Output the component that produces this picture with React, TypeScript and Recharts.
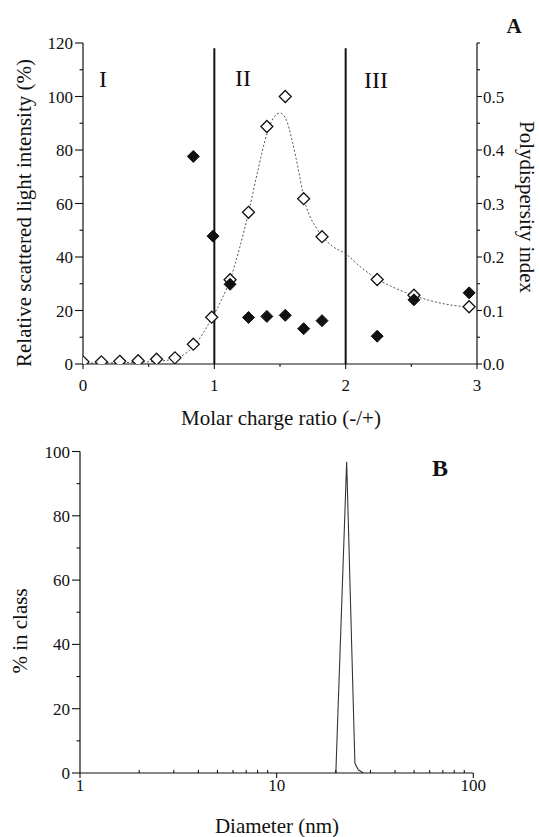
import React from 'react';
import { ComposedChart, Scatter, Line, XAxis, YAxis, ReferenceLine } from 'recharts';

const FONT = '"Liberation Serif", "Times New Roman", serif';
const INK = '#111';

// ---------- Panel A data ----------
const chargeRatio = [0, 0.14, 0.28, 0.42, 0.56, 0.7, 0.84, 0.98, 1.12, 1.26, 1.4, 1.54, 1.68, 1.82, 2.24, 2.52, 2.94];
const scatteredIntensity = [0.8, 0.8, 1.0, 1.2, 1.8, 2.3, 7.4, 17.5, 31.5, 56.7, 88.8, 100, 61.8, 47.6, 31.6, 25.7, 21.4];

const pdiRatio = [0.84, 0.99, 1.12, 1.26, 1.4, 1.54, 1.68, 1.82, 2.24, 2.52, 2.94];
const polydispersity = [0.388, 0.239, 0.149, 0.087, 0.089, 0.091, 0.066, 0.081, 0.052, 0.12, 0.133];

const fitRatio = [0, 0.14, 0.28, 0.42, 0.56, 0.7, 0.84, 0.98, 1.05, 1.12, 1.19, 1.26, 1.33, 1.4, 1.45, 1.5, 1.55, 1.59, 1.645, 1.68, 1.72, 1.77, 1.82, 1.9, 2.0, 2.12, 2.24, 2.38, 2.52, 2.7, 2.94];
const fitIntensity = [0.3, 0.4, 0.5, 0.7, 1.0, 2.0, 6.5, 17, 23.5, 31.5, 43, 56.5, 72, 86, 92, 93.8, 91, 84, 71.4, 62.5, 56, 51.4, 47.8, 44, 41.2, 36, 31.8, 28.3, 25.6, 23, 21.2];

const regionBoundaries = [1, 2];
const regionTop = 118;

const xTicksA = [0, 0.5, 1, 1.5, 2, 2.5, 3];
const xMajorA = [0, 1, 2, 3];
const leftTicksA = [0, 10, 20, 30, 40, 50, 60, 70, 80, 90, 100, 110, 120];
const leftMajorA = [0, 20, 40, 60, 80, 100, 120];
const rightTicksA = [0, 0.05, 0.1, 0.15, 0.2, 0.25, 0.3, 0.35, 0.4, 0.45, 0.5, 0.55, 0.6];
const rightMajorA = [0, 0.1, 0.2, 0.3, 0.4, 0.5];

// ---------- Panel B data ----------
const diameterNm = [20.0, 22.7, 25.0, 26.0, 27.6];
const percentInClass = [0, 96.8, 3.0, 1.0, 0];

const xTicksB = [1, 2, 3, 4, 5, 6, 7, 8, 9, 10, 20, 30, 40, 50, 60, 70, 80, 90, 100];
const xMajorB = [1, 10, 100];
const yTicksB = [0, 10, 20, 30, 40, 50, 60, 70, 80, 90, 100];
const yMajorB = [0, 20, 40, 60, 80, 100];

// ---------- table building ----------
const intensityData = chargeRatio.map((r, i) => ({ r, v: scatteredIntensity[i] }));
const pdiData = pdiRatio.map((r, i) => ({ r, v: polydispersity[i] }));
const fitData = fitRatio.map((r, i) => ({ r, v: fitIntensity[i] }));
const sizeData = diameterNm.map((d, i) => ({ d, p: percentInClass[i] }));

const isIn = (arr: number[], v: number) => arr.some((m) => Math.abs(m - v) < 1e-9);

const TICK_FONT = 17;

const leftTick = (majors: number[], fmt: (v: number) => string) => (props: any) => {
  const { x, y, payload } = props;
  const major = isIn(majors, payload.value);
  return (
    <g>
      <line x1={x} x2={x - (major ? 8 : 3.5)} y1={y} y2={y} stroke={INK} strokeWidth={1.1} />
      {major && (
        <text x={x - 10} y={y + 6} textAnchor="end" fontSize={TICK_FONT} fontFamily={FONT} fill={INK}>
          {fmt(payload.value)}
        </text>
      )}
    </g>
  );
};

const rightTick = (majors: number[], fmt: (v: number) => string) => (props: any) => {
  const { x, y, payload } = props;
  const major = isIn(majors, payload.value);
  return (
    <g>
      <line x1={x} x2={x + (major ? 5 : 3)} y1={y} y2={y} stroke={INK} strokeWidth={1.1} />
      {major && (
        <text x={x + 6} y={y + 6} textAnchor="start" fontSize={TICK_FONT} fontFamily={FONT} fill={INK}>
          {fmt(payload.value)}
        </text>
      )}
    </g>
  );
};

const bottomTickA = (props: any) => {
  const { x, y, payload } = props;
  const major = isIn(xMajorA, payload.value);
  return (
    <g>
      <line x1={x} x2={x} y1={y} y2={y + (major ? 5 : 3)} stroke={INK} strokeWidth={1.1} />
      {major && (
        <text x={x} y={y + 27} textAnchor="middle" fontSize={TICK_FONT} fontFamily={FONT} fill={INK}>
          {String(payload.value)}
        </text>
      )}
    </g>
  );
};

const bottomTickB = (props: any) => {
  const { x, y, payload } = props;
  const major = isIn(xMajorB, payload.value);
  return (
    <g>
      {major ? (
        <line x1={x} x2={x} y1={y} y2={y + 5} stroke={INK} strokeWidth={1.1} />
      ) : (
        <line x1={x} x2={x} y1={y} y2={y - 3} stroke={INK} strokeWidth={1.1} />
      )}
      {major && (
        <text x={x} y={y + 18} textAnchor="middle" fontSize={TICK_FONT} fontFamily={FONT} fill={INK}>
          {String(payload.value)}
        </text>
      )}
    </g>
  );
};

const OpenDiamond = (props: any) => {
  const { cx, cy } = props;
  const s = 6;
  return (
    <polygon
      points={`${cx},${cy - s} ${cx + s},${cy} ${cx},${cy + s} ${cx - s},${cy}`}
      fill="#fff"
      stroke={INK}
      strokeWidth={1.3}
    />
  );
};

const FilledDiamond = (props: any) => {
  const { cx, cy } = props;
  const s = 6;
  return (
    <polygon
      points={`${cx},${cy - s} ${cx + s},${cy} ${cx},${cy + s} ${cx - s},${cy}`}
      fill={INK}
      stroke={INK}
      strokeWidth={1}
    />
  );
};

const axisLineStyle = { stroke: INK, strokeWidth: 1.2 };

export default function App() {
  return (
    <div
      style={{
        position: 'absolute',
        left: 0,
        top: 0,
        width: 539,
        height: 837,
        background: '#fff',
        fontFamily: FONT,
      }}
    >
      {/* Panel A */}
      <div style={{ position: 'absolute', left: 0, top: 0 }}>
        <ComposedChart width={539} height={420} margin={{ top: 43, right: 0, bottom: 0, left: 0 }}>
          <XAxis
            dataKey="r"
            type="number"
            domain={[0, 3]}
            ticks={xTicksA}
            interval={0}
            height={56}
            tickSize={0}
            tickMargin={0}
            tickLine={false}
            axisLine={axisLineStyle}
            tick={bottomTickA}
            allowDataOverflow
          />
          <YAxis
            yAxisId="left"
            orientation="left"
            type="number"
            domain={[0, 120]}
            ticks={leftTicksA}
            interval={0}
            width={83}
            tickSize={0}
            tickMargin={0}
            tickLine={false}
            axisLine={axisLineStyle}
            tick={leftTick(leftMajorA, (v) => String(v))}
            allowDataOverflow
          />
          <YAxis
            yAxisId="right"
            orientation="right"
            type="number"
            domain={[0, 0.6]}
            ticks={rightTicksA}
            interval={0}
            width={62}
            tickSize={0}
            tickMargin={0}
            tickLine={false}
            axisLine={axisLineStyle}
            tick={rightTick(rightMajorA, (v) => v.toFixed(1))}
            allowDataOverflow
          />
          {regionBoundaries.map((b) => (
            <ReferenceLine
              key={b}
              yAxisId="left"
              segment={[
                { x: b, y: 0 },
                { x: b, y: regionTop },
              ]}
              stroke={INK}
              strokeWidth={2}
            />
          ))}
          <Line
            yAxisId="left"
            data={fitData}
            dataKey="v"
            type="monotone"
            stroke="#555"
            strokeWidth={1}
            strokeDasharray="2 2"
            dot={false}
            activeDot={false}
            isAnimationActive={false}
          />
          <Scatter
            yAxisId="left"
            data={intensityData}
            dataKey="v"
            shape={OpenDiamond}
            isAnimationActive={false}
          />
          <Scatter
            yAxisId="right"
            data={pdiData}
            dataKey="v"
            shape={FilledDiamond}
            isAnimationActive={false}
          />
        </ComposedChart>
      </div>

      {/* Panel B */}
      <div style={{ position: 'absolute', left: 0, top: 420 }}>
        <ComposedChart width={539} height={417} margin={{ top: 31.5, right: 65.7, bottom: 0, left: 0 }}>
          <XAxis
            dataKey="d"
            type="number"
            scale="log"
            domain={[1, 100]}
            ticks={xTicksB}
            interval={0}
            height={64}
            tickSize={0}
            tickMargin={0}
            tickLine={false}
            axisLine={axisLineStyle}
            tick={bottomTickB}
            allowDataOverflow
          />
          <YAxis
            type="number"
            domain={[0, 100]}
            ticks={yTicksB}
            interval={0}
            width={80}
            tickSize={0}
            tickMargin={0}
            tickLine={false}
            axisLine={axisLineStyle}
            tick={leftTick(yMajorB, (v) => String(v))}
            allowDataOverflow
          />
          <Line
            data={sizeData}
            dataKey="p"
            type="linear"
            stroke="#333"
            strokeWidth={1.1}
            dot={false}
            activeDot={false}
            isAnimationActive={false}
          />
        </ComposedChart>
      </div>

      {/* Titles & annotations */}
      <svg
        width={539}
        height={837}
        style={{ position: 'absolute', left: 0, top: 0, pointerEvents: 'none' }}
        fontFamily={FONT}
        fill={INK}
      >
        <text x={24} y={213} fontSize={21} textAnchor="middle" dominantBaseline="central" transform="rotate(-90 24 213)">
          Relative scattered light intensity (%)
        </text>
        <text x={527} y={207} fontSize={21} textAnchor="middle" dominantBaseline="central" transform="rotate(90 527 207)">
          Polydispersity index
        </text>
        <text x={281} y={425} fontSize={21} textAnchor="middle">
          Molar charge ratio (-/+)
        </text>
        <text x={99} y={87} fontSize={24}>I</text>
        <text x={235} y={86} fontSize={24}>II</text>
        <text x={364} y={88} fontSize={24}>III</text>
        <text x={514} y={33} fontSize={21} fontWeight="bold" textAnchor="middle">A</text>

        <text x={440} y={476} fontSize={24} fontWeight="bold" textAnchor="middle">B</text>
        <text x={20} y={631} fontSize={21} textAnchor="middle" dominantBaseline="central" transform="rotate(-90 20 631)">
          % in class
        </text>
        <text x={277} y={833} fontSize={21} textAnchor="middle">
          Diameter (nm)
        </text>
      </svg>
    </div>
  );
}
